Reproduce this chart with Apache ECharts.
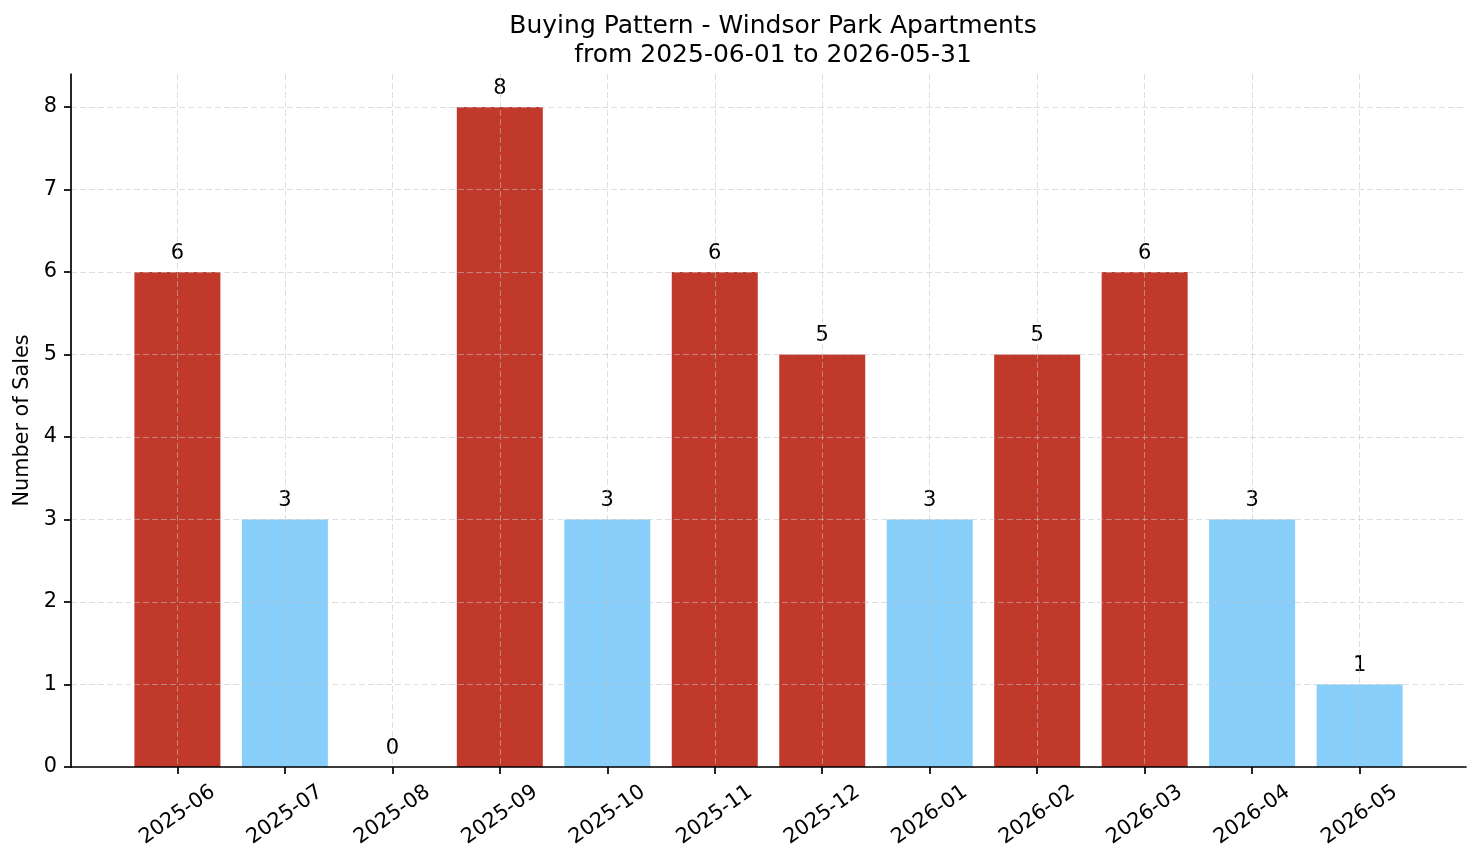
<!DOCTYPE html>
<html>
<head>
<meta charset="utf-8">
<script src="https://cdn.jsdelivr.net/npm/echarts@6/dist/echarts.min.js"></script>
<style>
html,body{margin:0;padding:0;background:#fff;}
#chart{width:1481px;height:863px;}
</style>
</head>
<body>
<div id="chart"></div>
<script>
const titleLines = ['Buying Pattern - Windsor Park Apartments', 'from 2025-06-01 to 2026-05-31'];
const months = ['2025-06','2025-07','2025-08','2025-09','2025-10','2025-11','2025-12','2026-01','2026-02','2026-03','2026-04','2026-05'];
const sales = [6, 3, 0, 8, 3, 6, 5, 3, 5, 6, 3, 1];
const yTicks = [0, 1, 2, 3, 4, 5, 6, 7, 8];
const yLabel = 'Number of Sales';
const colorAbove = '#c0392b';
const colorBelow = '#87cefa';

const mean = sales.reduce((a, b) => a + b, 0) / sales.length;
const idx = months.map((m, i) => i);
const FONT = 'DejaVu Sans';

const chart = echarts.init(document.getElementById('chart'), null, {renderer: 'canvas'});
const gridLine = {show: true, lineStyle: {color: 'rgba(195,195,195,0.55)', width: 1, type: [6, 3]}};
chart.setOption({
  animation: false,
  backgroundColor: '#fff',
  title: {
    text: titleLines.join('\n'),
    left: 768, top: 7, textAlign: 'center',
    textStyle: {fontFamily: FONT, fontSize: 25, fontWeight: 'normal', color: '#000', lineHeight: 29}
  },
  grid: {left: 71, right: 15, top: 74, bottom: 96, containLabel: false},
  xAxis: {
    type: 'value', min: -0.99, max: 11.99, z: 5,
    axisLine: {show: true, onZero: false, lineStyle: {color: '#000', width: 1.7}},
    axisTick: {show: true, length: 7, customValues: idx, lineStyle: {color: '#000', width: 1.7}},
    axisLabel: {
      customValues: idx, rotate: 35, align: 'center', verticalAlign: 'middle', margin: 48,
      fontFamily: FONT, fontSize: 20.8, color: '#000',
      formatter: v => months[Math.round(v)] || ''
    },
    splitLine: gridLine
  },
  yAxis: {
    type: 'value', min: 0, max: 8.4, z: 5,
    name: yLabel, nameLocation: 'middle', nameGap: 36,
    nameTextStyle: {fontFamily: FONT, fontSize: 20.8, color: '#000'},
    axisLine: {show: true, onZero: false, lineStyle: {color: '#000', width: 1.7}},
    axisTick: {show: true, length: 7, customValues: yTicks, lineStyle: {color: '#000', width: 1.7}},
    axisLabel: {customValues: yTicks, margin: 14, fontFamily: FONT, fontSize: 20.8, color: '#000'},
    splitLine: gridLine
  },
  series: [{
    type: 'bar',
    barWidth: 86,
    data: sales.map((v, i) => ({value: [i, v], itemStyle: {color: v > mean ? colorAbove : colorBelow}})),
    label: {
      show: true, position: 'top', distance: 8,
      fontFamily: FONT, fontSize: 21, color: '#000',
      formatter: p => String(p.value[1])
    }
  }]
});
</script>
</body>
</html>
